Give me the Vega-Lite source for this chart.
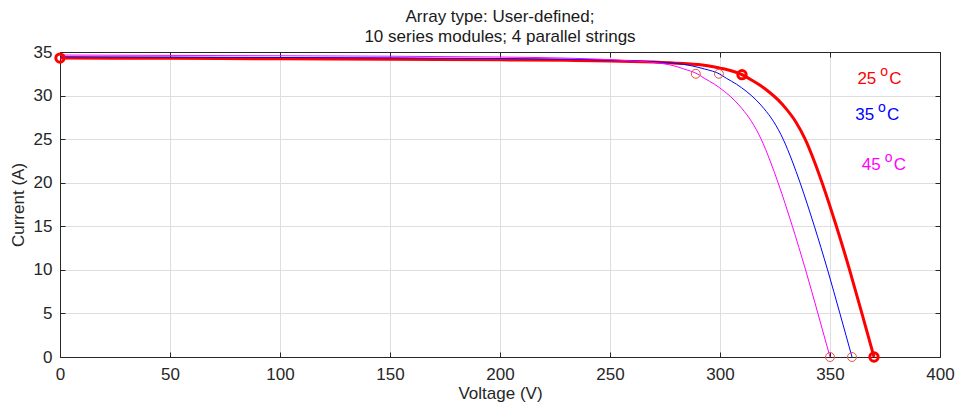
{
  "$schema": "https://vega.github.io/schema/vega-lite/v6.json",
  "autosize": "none",
  "width": 880,
  "height": 305,
  "padding": {"left": 60, "top": 52, "right": 18, "bottom": 55},
  "background": "white",
  "config": {
    "font": "Liberation Sans",
    "view": {"stroke": "#262626", "strokeWidth": 1},
    "axis": {
      "labelFont": "Liberation Sans",
      "titleFont": "Liberation Sans",
      "labelFontSize": 17,
      "titleFontSize": 17,
      "titleFontWeight": "normal",
      "labelColor": "#262626",
      "titleColor": "#262626",
      "domainColor": "#262626",
      "tickColor": "#262626",
      "gridColor": "#dedede",
      "gridWidth": 1,
      "labelFlush": false
    }
  },
  "title": {
    "text": ["Array type: User-defined;", "10 series modules; 4 parallel strings"],
    "font": "Liberation Sans",
    "fontSize": 17,
    "fontWeight": "normal",
    "color": "#1a1a1a",
    "anchor": "middle",
    "lineHeight": 20,
    "offset": -3
  },
  "datasets": {
    "curves": [
      {"series": "25", "V": 0, "I": 34.3},
      {"series": "25", "V": 50, "I": 34.27},
      {"series": "25", "V": 100, "I": 34.22},
      {"series": "25", "V": 150, "I": 34.17},
      {"series": "25", "V": 200, "I": 34.1},
      {"series": "25", "V": 230, "I": 34.05},
      {"series": "25", "V": 250, "I": 33.97},
      {"series": "25", "V": 265, "I": 33.87},
      {"series": "25", "V": 280, "I": 33.72},
      {"series": "25", "V": 285, "I": 33.65},
      {"series": "25", "V": 293.5, "I": 33.45},
      {"series": "25", "V": 300, "I": 33.15},
      {"series": "25", "V": 303, "I": 33.0},
      {"series": "25", "V": 310, "I": 32.4},
      {"series": "25", "V": 312.8, "I": 32.0},
      {"series": "25", "V": 317.5, "I": 31.3},
      {"series": "25", "V": 321.9, "I": 30.5},
      {"series": "25", "V": 326.4, "I": 29.5},
      {"series": "25", "V": 330, "I": 28.5},
      {"series": "25", "V": 334.4, "I": 27},
      {"series": "25", "V": 338.7, "I": 25},
      {"series": "25", "V": 342.8, "I": 22.5},
      {"series": "25", "V": 346.4, "I": 20},
      {"series": "25", "V": 352.9, "I": 15},
      {"series": "25", "V": 358.9, "I": 10},
      {"series": "25", "V": 364.5, "I": 5},
      {"series": "25", "V": 370, "I": 0},
      {"series": "35", "V": 0, "I": 34.45},
      {"series": "35", "V": 100, "I": 34.37},
      {"series": "35", "V": 200, "I": 34.25},
      {"series": "35", "V": 240, "I": 34.12},
      {"series": "35", "V": 255, "I": 34.02},
      {"series": "35", "V": 270, "I": 33.88},
      {"series": "35", "V": 275, "I": 33.8},
      {"series": "35", "V": 283.5, "I": 33.58},
      {"series": "35", "V": 290, "I": 33.25},
      {"series": "35", "V": 293, "I": 33.05},
      {"series": "35", "V": 300, "I": 32.45},
      {"series": "35", "V": 302.8, "I": 32.0},
      {"series": "35", "V": 307.5, "I": 31.3},
      {"series": "35", "V": 311.9, "I": 30.5},
      {"series": "35", "V": 316.4, "I": 29.5},
      {"series": "35", "V": 320, "I": 28.5},
      {"series": "35", "V": 324.4, "I": 27},
      {"series": "35", "V": 328.7, "I": 25},
      {"series": "35", "V": 332.8, "I": 22.5},
      {"series": "35", "V": 336.4, "I": 20},
      {"series": "35", "V": 342.9, "I": 15},
      {"series": "35", "V": 348.9, "I": 10},
      {"series": "35", "V": 354.5, "I": 5},
      {"series": "35", "V": 360, "I": 0},
      {"series": "45", "V": 0, "I": 34.65},
      {"series": "45", "V": 100, "I": 34.57},
      {"series": "45", "V": 200, "I": 34.42},
      {"series": "45", "V": 230, "I": 34.3},
      {"series": "45", "V": 245, "I": 34.18},
      {"series": "45", "V": 260, "I": 33.98},
      {"series": "45", "V": 265, "I": 33.9},
      {"series": "45", "V": 273.5, "I": 33.7},
      {"series": "45", "V": 280, "I": 33.35},
      {"series": "45", "V": 283, "I": 33.1},
      {"series": "45", "V": 290, "I": 32.45},
      {"series": "45", "V": 292.8, "I": 32.0},
      {"series": "45", "V": 297.5, "I": 31.3},
      {"series": "45", "V": 301.9, "I": 30.5},
      {"series": "45", "V": 306.4, "I": 29.5},
      {"series": "45", "V": 310, "I": 28.5},
      {"series": "45", "V": 314.4, "I": 27},
      {"series": "45", "V": 318.7, "I": 25},
      {"series": "45", "V": 322.8, "I": 22.5},
      {"series": "45", "V": 326.4, "I": 20},
      {"series": "45", "V": 332.9, "I": 15},
      {"series": "45", "V": 338.9, "I": 10},
      {"series": "45", "V": 344.5, "I": 5},
      {"series": "45", "V": 350, "I": 0}
    ],
    "thinMarkers": [
      {"series": "35", "V": 299.5, "I": 32.5},
      {"series": "35", "V": 360, "I": 0},
      {"series": "45", "V": 289, "I": 32.5},
      {"series": "45", "V": 350, "I": 0}
    ],
    "thickMarkers": [
      {"series": "25", "V": 0, "I": 34.3},
      {"series": "25", "V": 310, "I": 32.4},
      {"series": "25", "V": 370, "I": 0}
    ],
    "labels": [
      {"series": "25", "V": 371.5, "I": 31.85, "num": "25", "deg": "o", "unit": "C"},
      {"series": "35", "V": 370.5, "I": 27.8, "num": "35", "deg": "o", "unit": "C"},
      {"series": "45", "V": 373.5, "I": 22.0, "num": "45", "deg": "o", "unit": "C"}
    ]
  },
  "layer": [
    {
      "data": {"name": "curves"},
      "mark": {"type": "line", "interpolate": "monotone", "clip": true},
      "encoding": {
        "x": {
          "field": "V", "type": "quantitative",
          "scale": {"domain": [0, 400], "nice": false, "zero": false},
          "axis": {"title": "Voltage (V)", "values": [0, 50, 100, 150, 200, 250, 300, 350, 400], "tickSize": -5, "labelPadding": 14, "titlePadding": 3, "grid": true, "domain": true}
        },
        "y": {
          "field": "I", "type": "quantitative",
          "scale": {"domain": [0, 35], "nice": false, "zero": false},
          "axis": {"title": "Current (A)", "values": [0, 5, 10, 15, 20, 25, 30, 35], "tickSize": -5, "labelPadding": 13, "titlePadding": 6, "grid": true, "domain": true}
        },
        "color": {
          "field": "series", "type": "nominal",
          "scale": {"domain": ["25", "35", "45"], "range": ["#ff0000", "#0000ff", "#ff00ff"]},
          "legend": null
        },
        "strokeWidth": {
          "field": "series", "type": "nominal",
          "scale": {"type": "ordinal", "domain": ["25", "35", "45"], "range": [3, 1, 1]},
          "legend": null
        },
        "order": {"field": "V", "type": "quantitative"}
      }
    },
    {
      "data": {"name": "labels"},
      "mark": {"type": "text", "fontSize": 17, "font": "Liberation Sans", "align": "right", "baseline": "middle", "dx": -1},
      "encoding": {
        "x": {"field": "V", "type": "quantitative",
          "axis": {"orient": "top", "labels": false, "title": null, "grid": false, "tickSize": -5, "values": [0, 50, 100, 150, 200, 250, 300, 350, 400], "domain": true}},
        "y": {"field": "I", "type": "quantitative",
          "axis": {"orient": "right", "labels": false, "title": null, "grid": false, "tickSize": -5, "values": [0, 5, 10, 15, 20, 25, 30, 35], "domain": true}},
        "text": {"field": "num"},
        "color": {
          "field": "series", "type": "nominal",
          "scale": {"domain": ["25", "35", "45"], "range": ["#ff0000", "#0000ff", "#ff00ff"]},
          "legend": null
        }
      }
    },
    {
      "data": {"name": "labels"},
      "mark": {"type": "text", "fontSize": 14, "font": "Liberation Sans", "align": "left", "baseline": "middle", "dx": 3, "dy": -7},
      "encoding": {
        "x": {"field": "V", "type": "quantitative", "axis": null},
        "y": {"field": "I", "type": "quantitative", "axis": null},
        "text": {"field": "deg"},
        "color": {
          "field": "series", "type": "nominal",
          "scale": {"domain": ["25", "35", "45"], "range": ["#ff0000", "#0000ff", "#ff00ff"]},
          "legend": null
        }
      }
    },
    {
      "data": {"name": "labels"},
      "mark": {"type": "text", "fontSize": 17, "font": "Liberation Sans", "align": "left", "baseline": "middle", "dx": 12},
      "encoding": {
        "x": {"field": "V", "type": "quantitative", "axis": null},
        "y": {"field": "I", "type": "quantitative", "axis": null},
        "text": {"field": "unit"},
        "color": {
          "field": "series", "type": "nominal",
          "scale": {"domain": ["25", "35", "45"], "range": ["#ff0000", "#0000ff", "#ff00ff"]},
          "legend": null
        }
      }
    },
    {
      "data": {"name": "thinMarkers"},
      "mark": {"type": "point", "shape": "circle", "filled": false, "size": 80, "stroke": "#e2553f", "strokeWidth": 1, "opacity": 1, "clip": false},
      "encoding": {
        "x": {"field": "V", "type": "quantitative", "axis": null},
        "y": {"field": "I", "type": "quantitative", "axis": null}
      }
    },
    {
      "data": {"name": "thickMarkers"},
      "mark": {"type": "point", "shape": "circle", "filled": false, "size": 70, "stroke": "#ff0000", "strokeWidth": 3, "opacity": 1, "clip": false},
      "encoding": {
        "x": {"field": "V", "type": "quantitative", "axis": null},
        "y": {"field": "I", "type": "quantitative", "axis": null}
      }
    }
  ],
  "resolve": {"axis": {"x": "independent", "y": "independent"}}
}
